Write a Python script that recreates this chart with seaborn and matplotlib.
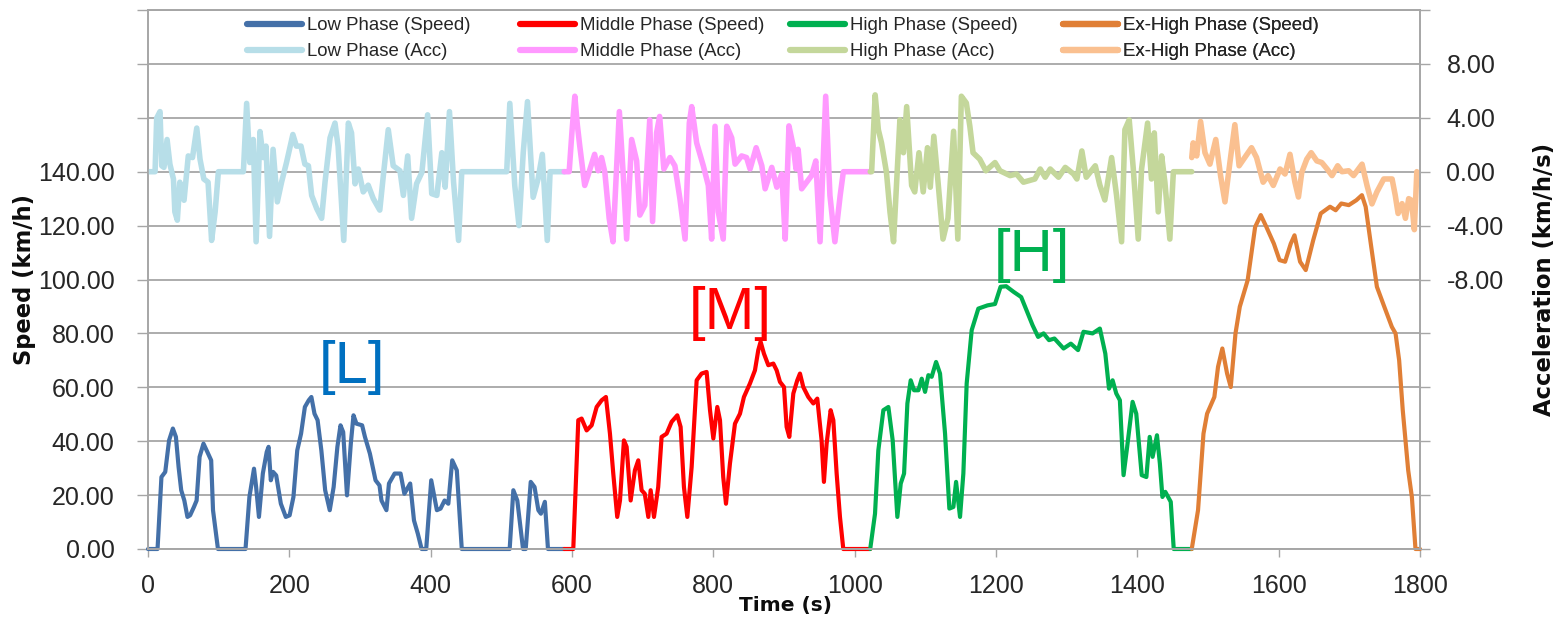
import pandas as pd
import matplotlib
matplotlib.use("Agg")
import matplotlib.pyplot as plt
import seaborn as sns
from matplotlib.ticker import FixedLocator, FuncFormatter

# ---- values (time in s, speed in km/h, acc in km/h/s) ----
low_t = [0, 13.5, 19, 24.4, 29.8, 35.2, 39.5, 43.3, 47, 51.4, 55.8, 59.6, 65, 68.8, 73, 78.5, 84, 89.4, 92, 99,
         138, 143.5, 150, 153, 157, 162.5, 168, 170.6, 173.8, 177, 181.4, 188, 195, 200.4, 205.8, 211.2, 216.6,
         222, 227.5, 231.2, 235.6, 240, 245.3, 250.7, 257.2, 262.7, 268, 272.4, 276.2, 281.6, 287, 290.8, 295,
         303, 307, 314, 322, 327.6, 330.4, 337.4, 341, 349, 357.4, 362.8, 371, 376.4, 381.8, 387.2, 393.7,
         400.8, 408.8, 414, 419.7, 425, 430.5, 437, 444, 511.8, 517, 522.6, 530.7, 534.5, 541.6, 547, 552.4,
         556, 561.6, 566, 589]
low_speed = [0, 0, 26.7, 28.6, 40.3, 44.7, 41.6, 30.4, 21.8, 18, 11.9, 12.5, 15.6, 18, 34.2, 39.1, 36, 32.9, 14.4, 0,
             0, 19.3, 29.8, 23, 11.9, 28, 36, 37.9, 25.5, 28.6, 27.3, 16.8, 11.9, 12.5, 19.3, 36.6, 42.8,
             52.7, 55.2, 56.4, 50.2, 47.8, 36.6, 21.8, 14.4, 23, 37.9, 45.9, 43.4, 19.9, 39.1, 49.6, 46.5,
             45.9, 41.6, 35.4, 25.5, 23.6, 18, 14.4, 24.3, 28, 28, 20.5, 24.3, 10.6, 5.7, 0, 0,
             25.5, 14.4, 15, 18, 16.8, 32.9, 29.2, 0, 0, 21.8, 18, 0, 0, 24.9, 23, 14.4,
             13.1, 17.5, 0, 0]

mid_t = [589, 601.8, 608.9, 613.6, 620.7, 627.8, 634.9, 642, 648, 653.7, 658.4, 664, 667.9, 673.5, 677.3, 683,
         689, 693.8, 698.5, 703, 708, 711.3, 716, 722, 726.8, 733.9, 741, 749, 753.7, 758.4, 763.2, 769.3,
         776.4, 783.4, 790.5, 795.3, 800, 805.6, 809.4, 814, 817.9, 823.5, 830.6, 837.7, 843.3, 851.8, 858.9,
         863.6, 866.9, 871.6, 877.8, 884.9, 889.6, 894.3, 900, 903.7, 907.5, 913.2, 918.8, 922.6, 927.3,
         934.4, 941.5, 947.1, 953.2, 956.5, 960.3, 966, 969.8, 974.5, 979.2, 983.9, 1022]
mid_speed = [0, 0, 47.8, 48.4, 44, 45.9, 52.7, 55.2, 56.4, 42.8, 28, 11.9, 18, 40.3, 37.9, 18,
             29.2, 32.9, 21.8, 20.5, 11.9, 21.8, 11.9, 23, 41.6, 42.8, 47.2, 49.6, 45.3, 23, 11.9, 30.4,
             62.6, 65.1, 65.7, 51.5, 41, 52.7, 47.8, 26.7, 16.8, 31.7, 46.5, 50.2, 56.4, 61.4, 66.3,
             73.8, 76.9, 72.5, 68.2, 68.8, 66.3, 62, 60.1, 45.3, 41.6, 57.7, 62.6, 65.1, 60.1,
             56.4, 54, 55.8, 40.3, 24.9, 39.1, 51.5, 47.8, 28, 11.9, 0, 0]

high_t = [1022, 1028.8, 1033.5, 1040.6, 1047.7, 1053.8, 1060.4, 1065.2, 1069.9, 1074.6, 1079.3, 1084, 1090.2,
          1094.9, 1099.6, 1104.3, 1109, 1115.2, 1120.8, 1127.9, 1134, 1139.7, 1143.5, 1149.1, 1153.8, 1158.5,
          1165.6, 1175, 1188, 1198.6, 1206.5, 1214.4, 1225, 1235.6, 1251.8, 1259.6, 1267.3, 1275, 1282.7,
          1295.6, 1305.9, 1316.1, 1323.8, 1336.7, 1347, 1354.7, 1359.9, 1365, 1370.2, 1375.3, 1380.5, 1385.6,
          1393.3, 1398.5, 1406.2, 1412.8, 1417.5, 1421.6, 1427.8, 1431.9, 1435.5, 1439.6, 1447.3, 1451.5, 1477]
high_speed = [0, 13.1, 36.6, 51.5, 52.7, 40.3, 11.9, 24.3, 28, 54, 62.6, 58.9, 58.9,
              63.2, 58.3, 64.5, 63.9, 69.4, 65.1, 42.8, 15, 15.6, 24.9, 11.9, 28, 61.4,
              81.2, 89.2, 90.4, 90.9, 97.3, 97.5, 95.4, 93.5, 83, 78.7, 80, 77.5, 78.1,
              74.4, 76.2, 73.8, 80.6, 80, 81.8, 72.5, 59.5, 62.6, 57.7, 55.2, 27.4, 37.9,
              54.6, 50.2, 27.4, 26.7, 41.6, 34.2, 42.2, 31.7, 19.3, 21.2, 17.5, 0, 0]

exh_t = [1477, 1485.9, 1493.6, 1498.7, 1509, 1514.2, 1520.3, 1527, 1532.2, 1538.9, 1545, 1556.1, 1566.7,
         1574.7, 1582.6, 1593.2, 1601.2, 1609.1, 1617.1, 1622.4, 1630.3, 1638.3, 1648.9, 1659.5, 1672.7,
         1680.7, 1688.6, 1699.2, 1709.8, 1717.8, 1723.1, 1731, 1739, 1749.6, 1760.2, 1765.4, 1770.5,
         1775.6, 1783.3, 1788.5, 1793.6, 1800]
exh_speed = [0, 14.4, 42.8, 50.2, 56.4, 67.6, 74.4, 65.1, 60.1, 80, 89.9, 99.7, 119.5,
             123.9, 119.5, 113.3, 107.2, 106.6, 113.3, 116.4, 106.6, 103.5, 114.6, 124.5, 127,
             125.7, 128.2, 127.6, 129.4, 131.3, 127, 112.1, 97.3, 89.8, 82.4, 80, 70,
             51.5, 29.2, 19.3, 0, 0]

low_acc_t = [0, 10, 12.3, 17, 19.4, 22.6, 27, 31, 36, 38, 41.5, 45, 51, 57, 63, 69, 73.6, 79, 85, 90, 95, 99.6,
             135, 139.6, 144, 149, 153, 158.5, 163, 167, 172, 177, 183, 189, 196, 205, 210, 216.5, 222, 227,
             231.6, 238.7, 245.7, 250.5, 257.6, 264.6, 269, 277, 283.5, 288, 293, 297.6, 304.6, 311.6, 318.8,
             328, 333, 340, 347, 356.6, 361.4, 367.5, 373, 380, 387.6, 395.7, 401.5, 408.7, 415.8, 420.5,
             426.6, 432.4, 439.5, 444, 507.6, 512, 519, 525, 531, 537, 545, 552, 558, 565, 569, 589]
low_acc = [0, 0, 3.98, 4.46, 0.44, 0.32, 2.39, 0.56, -0.54, -2.98, -3.6, -0.78, -2.12, 1.17, 1.05, 3.24, 0.93,
           -0.54, -0.78, -5.1, -2.98, 0,
           0, 5.07, 0.68, 2.39, -5.2, 2.98, 1.05, 1.9, -4.8, 1.66, -2.24, -0.78, 0.68, 2.76, 1.9, 1.9, 0.56, 0.44,
           -1.76, -2.73, -3.46, -0.78, 2.51, 3.61, 1.9, -5.1, 3.61, 2.88, -0.9, 0.2, -1.5, -1.0, -2.0,
           -2.85, -0.3, 3.12, 0.44, 0.07, -1.76, 1.17, -3.46, -0.9, -0.05, 4.22, -1.63, -1.76, 1.41, -1.15,
           4.46, -0.78, -5.1, 0, 0, 5.07, -1.02, -4.0, 1.41, 5.2, -1.9, -0.54, 1.29, -5.1, 0, 0]

mid_acc_t = [589, 596, 600, 604, 607.5, 611, 618, 624, 632, 637, 641.8, 646.5, 652.6, 658, 667, 672.6, 677.3,
             684.4, 691.5, 696, 703, 710, 714, 719.7, 724, 730, 738.6, 745.6, 752.7, 760, 766, 769.4, 776.4,
             785.8, 792.9, 797.6, 802.4, 807, 814, 819, 826, 830.8, 840, 847, 852, 860.6, 868.6, 873.3, 882.7,
             889.8, 896.9, 901.7, 907, 913, 917, 920, 925, 932, 939, 945, 951, 959, 965, 972, 979.5, 984, 1022]
mid_acc = [0, 0, 3.0, 5.6, 3.5, 1.9, -1.02, -0.05, 1.29, 0.07, 1.05, -0.05, -3.46, -5.2, 4.46, -0.29, -5.0,
           2.39, 0.8, -3.22, -2.49, 3.85, -3.7, 2.88, 4.1, 0.2, 1.05, 0.44, -2.0, -5.0, 3.61, 4.83, 2.14,
           0.44, -1.02, -5.0, 3.37, -2.98, -5.0, 3.37, 2.51, 0.56, 1.17, 1.05, 0.2, 1.78, 0.44, -1.27, 0.32,
           -1.15, -0.17, -5.0, 3.4, 1.9, 0.2, 1.66, -1.27, -0.78, -0.29, 0.8, -5.2, 5.6, -1.76, -5.2, -1.76, 0, 0]

high_acc_t = [1022, 1024, 1029, 1033.5, 1038, 1045, 1050, 1055, 1064, 1069, 1073.6, 1080.6, 1085, 1091, 1097,
              1103, 1107, 1112, 1118, 1125, 1132, 1140, 1146, 1151, 1158, 1163, 1167.5, 1177, 1185.6, 1198.6,
              1205.6, 1220, 1229, 1238.8, 1255, 1262.6, 1269.6, 1276.7, 1288.5, 1298, 1309.8, 1314.5, 1321.5,
              1327.7, 1340.5, 1347, 1354, 1363.6, 1370.6, 1377.7, 1382.4, 1388.5, 1394.3, 1401.3, 1406,
              1414.5, 1420, 1424, 1429.6, 1434.4, 1439, 1446, 1451, 1477]
high_acc = [0, 0, 5.7, 3.12, 2.14, -0.05, -3.0, -5.2, 3.85, 1.41, 4.83, -1.02, -1.5, 1.41, -1.5,
            1.78, -1.15, 2.63, -0.78, -5.0, -3.46, 3.0, -5.0, 5.6, 5.1, 3.37, 1.41, 0.93, 0.07, 0.68,
            0.07, -0.29, -0.17, -0.78, -0.54, 0.2, -0.41, 0.2, -0.41, 0.32, -0.17, -0.54, 1.54,
            -0.41, 0.44, -1.0, -2.1, 1.05, -1.76, -5.2, 3.12, 3.85, 0.2, -5.0, 0.2,
            3.61, -0.54, 2.88, -2.98, 1.17, -0.78, -5.0, 0, 0]

exh_acc_t = [1477, 1479, 1484, 1489.5, 1495.7, 1502.7, 1511, 1517.8, 1524, 1531, 1538, 1544, 1552, 1561.6,
             1568.7, 1578, 1585, 1592.4, 1602, 1609, 1616, 1623, 1628, 1632.7, 1639.8, 1646, 1654, 1661,
             1668.5, 1675.5, 1683.5, 1689.6, 1699, 1706, 1718, 1725, 1732, 1739, 1748.7, 1760.5, 1765, 1769,
             1774.6, 1779.4, 1784, 1788, 1792, 1795.5]
exh_acc = [1.05, 2.14, 1.17, 3.73, 1.41, 0.56, 2.39, -0.29, -2.24, 0.68, 3.49, 0.44, 1.05, 1.78,
           1.05, -0.78, -0.29, -1.02, 0.2, -0.17, 1.29, -0.78, -1.88, -0.05, 0.93, 1.41, 0.8, 0.68,
           0.2, -0.29, 0.44, 0, 0.07, -0.29, 0.56, -1.02, -2.39, -1.5, -0.54, -0.54, -1.76, -3.1,
           -2.37, -3.46, -2.0, -2.12, -4.3, 0]

phase_names = ["Low Phase", "Middle Phase", "High Phase", "Ex-High Phase"]
speed_colors = ["#4470A8", "#FF0000", "#00B050", "#E07F36"]
acc_colors = ["#B7DEE8", "#FF99FF", "#C4D79B", "#FAC090"]
tags = ["[L]", "[M]", "[H]"]
tag_colors = ["#0070C0", "#FF0000", "#00B050"]
tag_pos = [(289, 61.5), (824, 81.8), (1251, 103.2)]

phases = [(low_t, low_speed, low_acc_t, low_acc),
          (mid_t, mid_speed, mid_acc_t, mid_acc),
          (high_t, high_speed, high_acc_t, high_acc),
          (exh_t, exh_speed, exh_acc_t, exh_acc)]

sns.set_style("white")
plt.rcParams['font.family'] = ['Liberation Sans', 'DejaVu Sans']

W, H = 1567, 620
fig = plt.figure(figsize=(W / 100, H / 100), dpi=100)
ax = fig.add_axes([148 / W, 1 - 549 / H, 1272 / W, 539 / H])
ax2 = ax.twinx()

grey = "#A6A6A6"
handles = []
for (t, v, ta, a), sc, ac in zip(phases, speed_colors, acc_colors):
    ds = pd.DataFrame({"Time": t, "Speed": v})
    da = pd.DataFrame({"Time": ta, "Acc": a})
    sns.lineplot(data=ds, x="Time", y="Speed", ax=ax, color=sc, linewidth=3,
                 estimator=None, errorbar=None, legend=False, clip_on=False,
                 solid_joinstyle="round", solid_capstyle="round")
    hs = ax.lines[-1]
    sns.lineplot(data=da, x="Time", y="Acc", ax=ax2, color=ac, linewidth=4,
                 estimator=None, errorbar=None, legend=False,
                 solid_joinstyle="round", solid_capstyle="round")
    ha_ = ax2.lines[-1]
    handles.append((hs, ha_))

ax.set_xlim(0, 1800)
ax.set_ylim(0, 200)
ax2.set_ylim(-28, 12)

ax.xaxis.set_major_locator(FixedLocator(range(0, 1801, 200)))
ax.yaxis.set_major_locator(FixedLocator(range(0, 201, 20)))
ax.yaxis.set_major_formatter(FuncFormatter(lambda v, p: f"{v:.2f}" if v <= 140 else ""))
ax2.yaxis.set_major_locator(FixedLocator(range(-28, 13, 4)))
ax2.yaxis.set_major_formatter(FuncFormatter(lambda v, p: f"{v:.2f}" if -8 <= v <= 8 else ""))

ax.yaxis.grid(True, color=grey, linewidth=1.3)
ax.xaxis.grid(False)
ax2.grid(False)

ax.tick_params(axis="y", left=True, direction="out", length=8, width=1, color=grey,
               pad=16, labelsize=18, labelcolor="#262626")
ax.tick_params(axis="x", bottom=True, direction="out", length=6, width=1, color=grey,
               pad=12, labelsize=18, labelcolor="#262626")
ax2.tick_params(axis="y", right=True, left=False, direction="out", length=7, width=1, color=grey,
                pad=12, labelsize=18, labelcolor="#262626")
for a in (ax, ax2):
    for s in a.spines.values():
        s.set_color(grey)
        s.set_linewidth(1.2)
        s.set_visible(True)

lab = dict(fontfamily="DejaVu Sans", fontweight="bold", color="#0D0D0D",
           va="center", ha="center")
ax.set_xlabel("Time (s)", fontsize=14.5, **lab)
ax.xaxis.set_label_coords(0.5008, -0.104)
ax.set_ylabel("Speed (km/h)", fontsize=16.3, **lab)
ax.yaxis.set_label_coords(-0.0967, 0.5)
ax2.set_ylabel("Acceleration (km/h/s)", rotation=90, fontsize=16.3, **lab)
ax2.yaxis.set_label_coords(1.098, 0.5)

for txt, c, (x, y) in zip(tags, tag_colors, tag_pos):
    ax.text(x, y, txt, color=c, fontsize=43, ha="center", va="baseline")

leg_x = [247, 520, 790, 1063]
for (hs, ha_), name, lx in zip(handles, phase_names, leg_x):
    lg = ax2.legend([hs, ha_], [f"{name} (Speed)", f"{name} (Acc)"],
                    loc="upper left", bbox_to_anchor=(lx / W, 1 - 17 / H),
                    bbox_transform=fig.transFigure, frameon=False, fontsize=13.4,
                    handlelength=2.95, handletextpad=0.25, labelspacing=0.5,
                    borderpad=0, borderaxespad=0, labelcolor="#262626")
    for ln in lg.get_lines():
        ln.set_linewidth(4.5)
    ax2.add_artist(lg)

fig.savefig("out.png", dpi=100)
